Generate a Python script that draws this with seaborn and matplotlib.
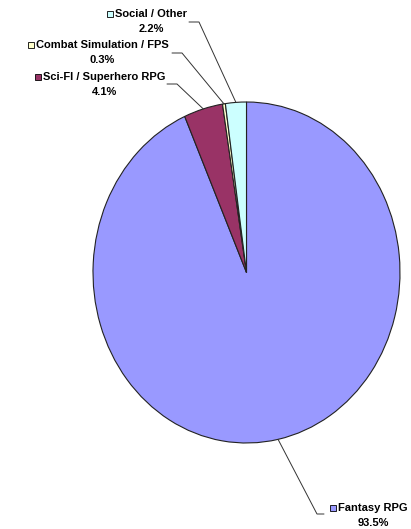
import numpy as np
import matplotlib
matplotlib.use("Agg")
import matplotlib.pyplot as plt
import seaborn as sns

# data
genres = ["Fantasy RPG", "Sci-FI / Superhero RPG", "Combat Simulation / FPS", "Social / Other"]
shares = [93.5, 4.1, 0.3, 2.2]
colors = ["#9999FF", "#993366", "#FFFFCC", "#CCFFFF"]

sns.set_theme(style="white")
plt.rcParams["font.family"] = ["Liberation Sans", "DejaVu Sans"]

W, H = 411, 529
fig = plt.figure(figsize=(W / 100, H / 100), dpi=100)

# pie box in pixels (ellipse, slightly taller than wide)
cx, cy, rx, ry = 246.5, 272.5, 153.5, 170.5
ax = fig.add_axes([(cx - rx) / W, (H - cy - ry) / H, 2 * rx / W, 2 * ry / H])

wedges, _ = ax.pie(shares, colors=colors, startangle=90, counterclock=False,
                   wedgeprops=dict(edgecolor="#222222", linewidth=0.8))
ax.set_aspect("auto")
ax.set_xlim(-1, 1)
ax.set_ylim(-1, 1)
ax.axis("off")


def px2data(px, py):
    return (px - cx) / rx, (cy - py) / ry


# label layout in pixels: text centre x, first line y, elbow start, elbow end
layout = {
    "Social / Other": (151, 14, (189, 22), (199, 22)),
    "Combat Simulation / FPS": (102, 45, (172, 53), (182, 53)),
    "Sci-FI / Superhero RPG": (104, 77, (167, 84), (177, 84)),
    "Fantasy RPG": (373, 508, (324, 514), (317, 514)),
}

for w, name, val, col in zip(wedges, genres, shares, colors):
    tx, ty, e0, e1 = layout[name]
    mid = np.deg2rad((w.theta1 + w.theta2) / 2)
    px = cx + rx * np.cos(mid)
    py = cy - ry * np.sin(mid)
    xs, ys = zip(*[px2data(*e0), px2data(*e1), px2data(px, py)])
    ax.plot(xs, ys, color="#333333", lw=0.7, clip_on=False)

    t = fig.text(tx / W, 1 - ty / H, name, ha="center", va="center",
                 fontsize=8, fontweight="bold", color="black")
    fig.text(tx / W, 1 - (ty + 15) / H, f"{val:.1f}%", ha="center", va="center",
             fontsize=8, fontweight="bold", color="black")
    # little colour key in front of the name
    fig.canvas.draw()
    bb = t.get_window_extent()
    kx = bb.x0 - 5
    ky = bb.y0 + bb.height / 2
    fig.add_artist(plt.Rectangle((kx - 3, ky - 3), 6, 6, transform=None,
                                 facecolor=col, edgecolor="black", lw=0.6))

fig.savefig("out.png", dpi=100)
